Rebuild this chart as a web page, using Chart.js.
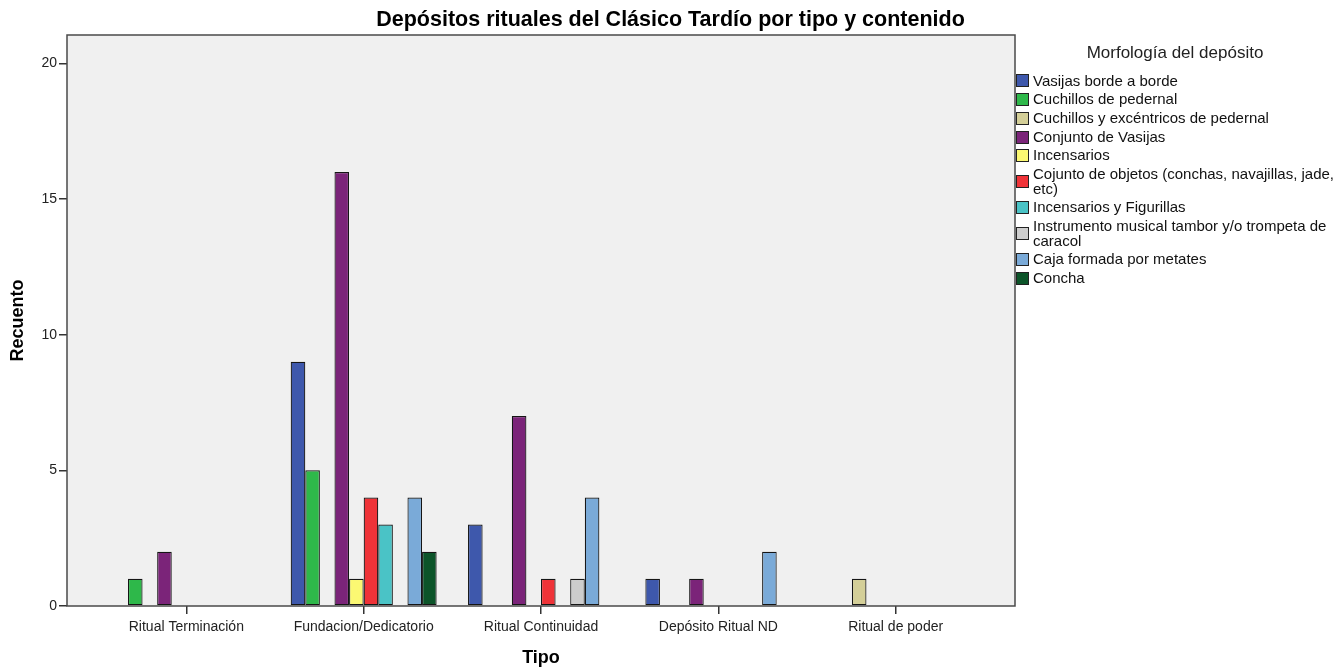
<!DOCTYPE html>
<html>
<head>
<meta charset="utf-8">
<script src="https://cdn.jsdelivr.net/npm/chart.js@4/dist/chart.umd.min.js"></script>
<style>
  html, body { margin: 0; padding: 0; background: #fff; }
  #wrap { position: relative; width: 1341px; height: 670px; }
  #legend { position: absolute; left: 1016px; top: 0; width: 325px; font-family: "Liberation Sans", Arial, sans-serif; color: #111; }
  #legendTitle { position: absolute; left: 0; top: 43px; width: 318px; text-align: center; font-size: 17px; line-height: 20px; color: #222; }
  #legendItems { position: absolute; left: 0; top: 71.6px; }
  .item { display: flex; align-items: center; padding: 2.1px 0; }
  .box { width: 13px; height: 13px; box-sizing: border-box; border: 1px solid #222; margin-right: 4px; flex: none; }
  .txt { width: 306px; font-size: 15px; line-height: 14.5px; }
</style>
</head>
<body>
<div id="wrap">
  <canvas id="c" width="1341" height="670"></canvas>
  <div id="legend"><div id="legendTitle"></div><div id="legendItems"></div></div>
</div>
<script>
const chartTitle = 'Depósitos rituales del Clásico Tardío por tipo y contenido';
const xTitle = 'Tipo';
const yTitle = 'Recuento';
const legendTitle = 'Morfología del depósito';
const categories = ['Ritual Terminación', 'Fundacion/Dedicatorio', 'Ritual Continuidad', 'Depósito Ritual ND', 'Ritual de poder'];
const yTicks = [0, 5, 10, 15, 20];

const seriesNames = [
  'Vasijas borde a borde',
  'Cuchillos de pedernal',
  'Cuchillos y excéntricos de pedernal',
  'Conjunto de Vasijas',
  'Incensarios',
  'Cojunto de objetos (conchas, navajillas, jade, etc)',
  'Incensarios y Figurillas',
  'Instrumento musical tambor y/o trompeta de caracol',
  'Caja formada por metates',
  'Concha'
];
const vasijasBorde          = [0, 9, 3, 1, 0];
const cuchillosPedernal     = [1, 5, 0, 0, 0];
const cuchillosExcentricos  = [0, 0, 0, 0, 1];
const conjuntoVasijas       = [2, 16, 7, 1, 0];
const incensarios           = [0, 1, 0, 0, 0];
const conjuntoObjetos       = [0, 4, 1, 0, 0];
const incensariosFigurillas = [0, 3, 0, 0, 0];
const instrumentoMusical    = [0, 0, 1, 0, 0];
const cajaMetates           = [0, 4, 4, 2, 0];
const concha                = [0, 2, 0, 0, 0];
const seriesValues = [vasijasBorde, cuchillosPedernal, cuchillosExcentricos, conjuntoVasijas, incensarios,
  conjuntoObjetos, incensariosFigurillas, instrumentoMusical, cajaMetates, concha];
const seriesColors = ['#3e58ac', '#2eb84a', '#d4cf98', '#7b2479', '#fbf872', '#ef3338', '#4ac3c6', '#cdcdcd', '#7aaad8', '#0c5429'];

const FONT = '"Liberation Sans", Arial, sans-serif';
const PLOT = { left: 67, right: 1015, bottom: 606 };

const frame = {
  id: 'frame',
  beforeDatasetsDraw(chart) {
    const a = chart.chartArea, ctx = chart.ctx;
    ctx.save();
    ctx.fillStyle = '#f0f0f0';
    ctx.fillRect(a.left, a.top, a.right - a.left, a.bottom - a.top);
    ctx.restore();
  },
  afterDatasetsDraw(chart) {
    const a = chart.chartArea, ctx = chart.ctx;
    ctx.save();
    ctx.strokeStyle = '#4a4a4a';
    ctx.lineWidth = 1.5;
    ctx.strokeRect(a.left, a.top, a.right - a.left, a.bottom - a.top);
    ctx.restore();
  }
};

const datasets = seriesNames.map((name, i) => ({
  label: name,
  data: seriesValues[i].map((v, j) => ({ x: j, y: v })),
  backgroundColor: seriesColors[i],
  borderColor: '#151515',
  borderWidth: 1.2,
  borderSkipped: false,
  categoryPercentage: 0.823,
  barPercentage: 1.0
}));

new Chart(document.getElementById('c'), {
  type: 'bar',
  data: { datasets },
  plugins: [frame],
  options: {
    responsive: false,
    animation: false,
    events: [],
    layout: { padding: 0 },
    plugins: {
      legend: { display: false },
      tooltip: { enabled: false },
      title: {
        display: true,
        text: chartTitle,
        color: '#000',
        font: { family: FONT, size: 21.5, weight: 'bold', lineHeight: 1.2 },
        padding: { top: 7, bottom: 2.2 }
      }
    },
    scales: {
      x: {
        type: 'linear',
        position: 'bottom',
        offset: false,
        min: -0.673,
        max: 4.673,
        afterBuildTicks: s => { s.ticks = categories.map((c, i) => ({ value: i })); },
        afterFit: s => { s.height = 670 - PLOT.bottom; },
        ticks: {
          callback: v => categories[v],
          color: '#222',
          font: { family: FONT, size: 14 },
          padding: 5,
          autoSkip: false,
          maxRotation: 0
        },
        grid: { display: true, offset: false, drawOnChartArea: false, drawTicks: true, tickLength: 8, color: '#333', lineWidth: 1.5 },
        border: { display: false },
        title: { display: true, text: xTitle, color: '#000', font: { family: FONT, size: 18, weight: 'bold', lineHeight: 1.2 }, padding: { top: 4, bottom: 1 } }
      },
      y: {
        type: 'linear',
        position: 'left',
        min: 0,
        max: 21.05,
        afterBuildTicks: s => { s.ticks = yTicks.map(v => ({ value: v })); },
        afterFit: s => { s.width = PLOT.left; },
        ticks: { color: '#222', font: { family: FONT, size: 14 }, padding: 2 },
        grid: { display: true, drawOnChartArea: false, drawTicks: true, tickLength: 8, color: '#333', lineWidth: 1.5 },
        border: { display: false },
        title: { display: true, text: yTitle, color: '#000', font: { family: FONT, size: 18, weight: 'bold', lineHeight: 1.2 }, padding: { top: 7, bottom: 0 } }
      },
      spacer: {
        type: 'linear',
        position: 'right',
        display: true,
        afterFit: s => { s.width = 1341 - PLOT.right; },
        ticks: { display: false },
        grid: { display: false },
        border: { display: false }
      }
    }
  }
});

// HTML legend built from the same series arrays
document.getElementById('legendTitle').textContent = legendTitle;
const items = document.getElementById('legendItems');
seriesNames.forEach((name, i) => {
  const row = document.createElement('div');
  row.className = 'item';
  const box = document.createElement('div');
  box.className = 'box';
  box.style.background = seriesColors[i];
  const t = document.createElement('div');
  t.className = 'txt';
  t.textContent = name;
  row.appendChild(box); row.appendChild(t);
  items.appendChild(row);
});
</script>
</body>
</html>
